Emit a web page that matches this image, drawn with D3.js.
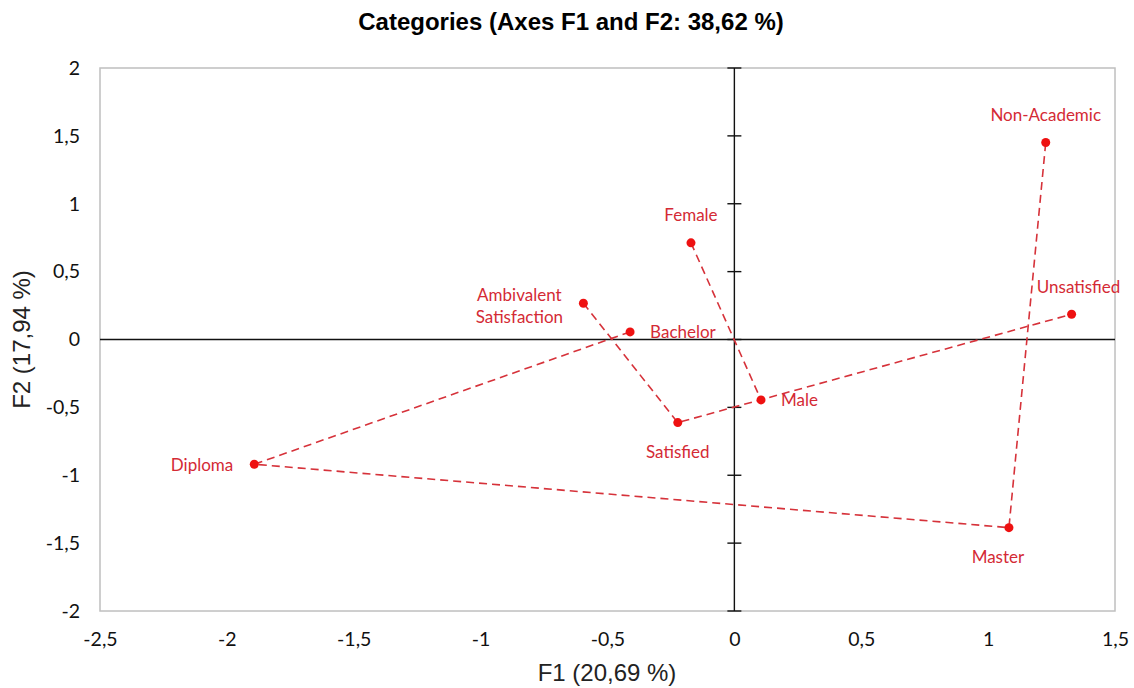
<!DOCTYPE html>
<html>
<head>
<meta charset="utf-8">
<script src="https://cdn.jsdelivr.net/npm/d3@7"></script>
<style>
  body { margin: 0; background: #fff; }
  text { font-family: "Lato", "Open Sans", sans-serif; }
</style>
</head>
<body>
<div id="chart"></div>
<script>
// category coordinates on F1 / F2
var categories = ["Non-Academic", "Unsatisfied", "Female", "Ambivalent Satisfaction", "Bachelor", "Male", "Satisfied", "Diploma", "Master"];
var f1 = [1.227, 1.329, -0.171, -0.595, -0.411, 0.105, -0.223, -1.892, 1.082];
var f2 = [1.451, 0.186, 0.712, 0.267, 0.056, -0.445, -0.612, -0.919, -1.386];
var labelSide = ["top", "top", "top", "left", "right", "right", "bottom", "left", "bottom"];

// dashed paths joining categories of the same variable
var gender = ["Female", "Male"];
var satisfaction = ["Ambivalent Satisfaction", "Satisfied", "Unsatisfied"];
var education = ["Bachelor", "Diploma", "Master", "Non-Academic"];

var xTicks = [-2.5, -2, -1.5, -1, -0.5, 0, 0.5, 1, 1.5];
var yTicks = [-2, -1.5, -1, -0.5, 0, 0.5, 1, 1.5, 2];

var margin = {top: 68, right: 19, bottom: 77, left: 100};
var width = 1134 - margin.left - margin.right;
var height = 688 - margin.top - margin.bottom;

var svg = d3.select("#chart")
  .append("svg")
    .attr("width", 1134)
    .attr("height", 688);

var g = svg.append("g")
    .attr("transform", "translate(" + margin.left + "," + margin.top + ")");

var x = d3.scaleLinear().domain([-2.5, 1.5]).range([0, width]);
var y = d3.scaleLinear().domain([-2, 2]).range([height, 0]);
var fmt = function(d) { return String(d).replace(".", ","); };

// frame
g.append("rect")
  .attr("width", width)
  .attr("height", height)
  .attr("fill", "none")
  .attr("stroke", "#bfbfbf")
  .attr("stroke-width", 1.5);

// tick labels on the frame edges
var xAxis = g.append("g")
  .attr("transform", "translate(0," + height + ")")
  .call(d3.axisBottom(x).tickValues(xTicks).tickFormat(fmt).tickSize(0).tickPadding(21));
var yAxis = g.append("g")
  .call(d3.axisLeft(y).tickValues(yTicks).tickFormat(fmt).tickSize(0).tickPadding(20));
[xAxis, yAxis].forEach(function(a) {
  a.select(".domain").remove();
  a.selectAll("text").attr("font-size", 19.5).attr("fill", "#111")
    .style("font-family", "Lato, 'Open Sans', sans-serif");
});

// zero axes
g.append("line")
  .attr("x1", 0).attr("x2", width)
  .attr("y1", y(0)).attr("y2", y(0))
  .attr("stroke", "#111").attr("stroke-width", 1.4);
g.append("line")
  .attr("x1", x(0)).attr("x2", x(0))
  .attr("y1", 0).attr("y2", height)
  .attr("stroke", "#111").attr("stroke-width", 1.4);
g.selectAll(".ytick")
  .data(yTicks)
  .enter().append("line")
    .attr("x1", x(0) - 7).attr("x2", x(0) + 7)
    .attr("y1", function(d) { return y(d); })
    .attr("y2", function(d) { return y(d); })
    .attr("stroke", "#111").attr("stroke-width", 1.4);

// dashed lines
var points = categories.map(function(c, i) { return {name: c, x: f1[i], y: f2[i], side: labelSide[i]}; });
var byName = function(n) { return points.find(function(p) { return p.name === n; }); };
var line = d3.line()
  .x(function(d) { return x(d.x); })
  .y(function(d) { return y(d.y); });

[gender, satisfaction, education].forEach(function(grp) {
  g.append("path")
    .datum(grp.map(byName))
    .attr("fill", "none")
    .attr("stroke", "#d6323a")
    .attr("stroke-width", 1.6)
    .attr("stroke-dasharray", "8,5")
    .attr("d", line);
});

// points
g.selectAll(".pt")
  .data(points)
  .enter().append("circle")
    .attr("cx", function(d) { return x(d.x); })
    .attr("cy", function(d) { return y(d.y); })
    .attr("r", 4.5)
    .attr("fill", "#ee1111");

// labels
var lbl = g.selectAll(".lbl")
  .data(points)
  .enter().append("text")
    .attr("font-size", 17)
    .attr("fill", "#d42a35")
    .attr("x", function(d) {
      var px = x(d.x);
      if (d.side === "right") return px + 20;
      if (d.side === "left") return d.name === "Diploma" ? px - 21 : px - 64;
      if (d.name === "Master") return px - 11;
      if (d.name === "Unsatisfied") return px + 7;
      return px;
    })
    .attr("y", function(d) {
      var py = y(d.y);
      if (d.side === "top") return py - 28;
      if (d.side === "bottom") return py + 29;
      return py;
    })
    .attr("text-anchor", function(d) {
      if (d.side === "right") return "start";
      if (d.side === "left" && d.name === "Diploma") return "end";
      return "middle";
    })
    .attr("dominant-baseline", "central");

lbl.each(function(d) {
  var t = d3.select(this);
  var words = d.name === "Ambivalent Satisfaction" ? ["Ambivalent", "Satisfaction"] : [d.name];
  if (words.length === 1) { t.text(d.name); return; }
  words.forEach(function(w, i) {
    t.append("tspan")
      .attr("x", t.attr("x"))
      .attr("dy", i === 0 ? "-0.55em" : "1.3em")
      .text(w);
  });
});

// titles
svg.append("text")
  .attr("x", 571)
  .attr("y", 30)
  .attr("text-anchor", "middle")
  .attr("font-size", 24)
  .attr("font-weight", "bold")
  .style("font-family", "'Liberation Sans', Arial, sans-serif")
  .text("Categories (Axes F1 and F2: 38,62 %)");

svg.append("text")
  .attr("x", 607)
  .attr("y", 681)
  .attr("text-anchor", "middle")
  .attr("font-size", 24)
  .attr("fill", "#222")
  .style("font-family", "'Liberation Sans', Arial, sans-serif")
  .text("F1 (20,69 %)");

svg.append("text")
  .attr("transform", "translate(30," + (margin.top + height / 2) + ") rotate(-90)")
  .attr("text-anchor", "middle")
  .attr("font-size", 24)
  .attr("fill", "#222")
  .style("font-family", "'Liberation Sans', Arial, sans-serif")
  .text("F2 (17,94 %)");
</script>
</body>
</html>
